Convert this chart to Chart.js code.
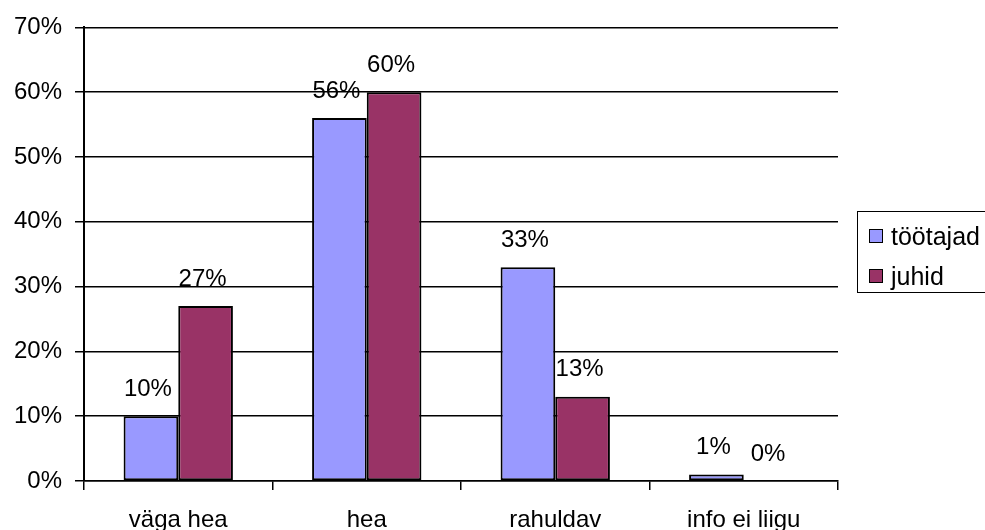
<!DOCTYPE html>
<html>
<head>
<meta charset="utf-8">
<script src="https://cdn.jsdelivr.net/npm/chart.js@4/dist/chart.umd.min.js"></script>
<style>
  html, body { margin: 0; padding: 0; background: #fff; }
  #wrap { position: relative; width: 985px; height: 530px; overflow: hidden; }
  #legend { position: absolute; left: 857px; top: 211px; width: 140px; height: 82px;
    border: 1.5px solid #000; box-sizing: border-box; font-family: "Liberation Sans", Arial, sans-serif; font-size: 25px; color: #000; }
  .item { position: absolute; left: 11px; height: 28px; line-height: 28px; white-space: nowrap; }
  .sw { display: inline-block; width: 12px; height: 12px; border: 1.5px solid #000; vertical-align: middle; margin-right: 8px; position: relative; top: -2px; }
</style>
</head>
<body>
<div id="wrap">
  <canvas id="c" width="985" height="530"></canvas>
  <div id="legend"></div>
</div>
<script>
const categories = ["väga hea", "hea", "rahuldav", "info ei liigu"];
const seriesNames = ["töötajad", "juhid"];
const tootajad = [10, 56, 33, 1];
const juhid = [27, 60, 13, 0];
const yTicks = [0, 10, 20, 30, 40, 50, 60, 70];
const colors = ["#9999FF", "#993366"];

const FONT = "'Liberation Sans', Arial, sans-serif";

const lg = document.getElementById('legend');
seriesNames.forEach((n, i) => {
  const it = document.createElement('div');
  it.className = 'item';
  it.style.top = (10 + i * 40) + 'px';
  it.innerHTML = '<span class="sw" style="background:' + colors[i] + '"></span>' + n;
  lg.appendChild(it);
});

const valueLabels = {
  id: 'valueLabels',
  afterDatasetsDraw(chart) {
    const ctx = chart.ctx;
    ctx.save();
    ctx.font = '24px ' + FONT;
    ctx.fillStyle = '#000';
    ctx.textAlign = 'center';
    ctx.textBaseline = 'middle';
    chart.data.datasets.forEach((ds, di) => {
      chart.getDatasetMeta(di).data.forEach((bar, i) => {
        ctx.fillText(ds.data[i] + '%', bar.x - 3, bar.y - 27);
      });
    });
    ctx.restore();
  }
};

new Chart(document.getElementById('c'), {
  type: 'bar',
  data: {
    labels: categories,
    datasets: [
      { label: seriesNames[0], data: tootajad, backgroundColor: colors[0], borderColor: '#000', borderWidth: 2, borderSkipped: false },
      { label: seriesNames[1], data: juhid, backgroundColor: colors[1], borderColor: '#000', borderWidth: 2, borderSkipped: false }
    ]
  },
  options: {
    responsive: false,
    animation: false,
    devicePixelRatio: 1,
    layout: { padding: { top: 26, right: 147, bottom: 0, left: 0 } },
    datasets: { bar: { categoryPercentage: 0.58, barPercentage: 1.0 } },
    plugins: { legend: { display: false }, tooltip: { enabled: false } },
    scales: {
      x: {
        grid: { display: true, drawOnChartArea: false, drawTicks: true, tickLength: 9, color: '#000', lineWidth: 1.5, offset: true },
        border: { display: true, color: '#000', width: 1.5 },
        ticks: { color: '#000', font: { family: FONT, size: 24, lineHeight: 1 }, padding: 18, maxRotation: 0 },
        afterFit(s) { s.height = 49; }
      },
      y: {
        min: 0, max: 70,
        afterBuildTicks(s) { s.ticks = yTicks.map(v => ({ value: v })); },
        grid: { color: '#000', lineWidth: 1.5, tickLength: 9 },
        border: { display: true, color: '#000', width: 2 },
        ticks: { color: '#000', font: { family: FONT, size: 24 }, padding: 13, callback: v => v + '%' },
        afterFit(s) { s.width = 84; }
      }
    }
  },
  plugins: [valueLabels]
});
</script>
</body>
</html>
